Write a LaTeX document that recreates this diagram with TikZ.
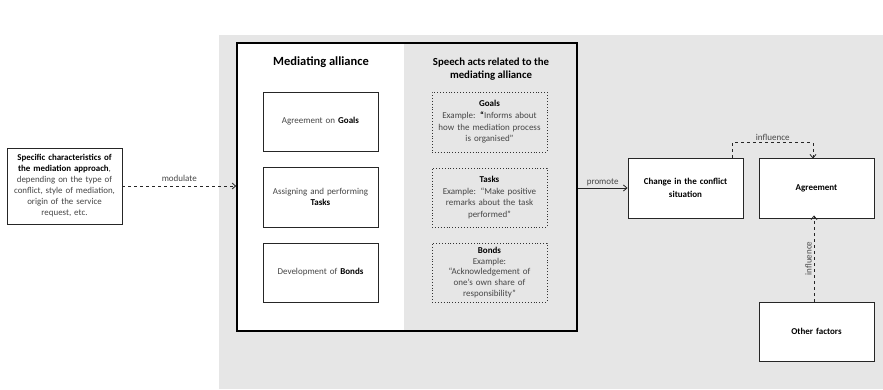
\documentclass[tikz,border=0pt]{standalone}
\usepackage{fontspec}
\setmainfont{Carlito}
\usetikzlibrary{arrows.meta}
\definecolor{panelgray}{RGB}{230,230,230}
\definecolor{txtgray}{RGB}{70,70,70}

\begin{document}
\begin{tikzpicture}[x=1pt,y=-1pt,
    box/.style={draw=black!85,line width=0.9pt,fill=white,minimum width=115pt,
      text width=112pt,align=center,inner sep=0pt,text=txtgray,
      font=\fontsize{9}{11.6}\selectfont},
    dotbox/.style={box,draw=black!80,dotted,line width=0.9pt,fill=none},
    boldbox/.style={box,minimum height=60pt,text=black,font=\fontsize{9}{12.5}\selectfont\bfseries},
    flow/.style={-{Straight Barb[length=3.5pt,width=6pt]},line width=0.8pt,black!85},
    lbl/.style={text=txtgray,font=\fontsize{9}{10}\selectfont,inner sep=2pt}]
  \useasboundingbox (0,0) rectangle (883,389);
  % grey panel
  \fill[panelgray] (219,35) rectangle (883,389);
  \fill[white] (237,43) rectangle (404,331);
  \node[draw=black,line width=1.6pt,minimum width=340pt,minimum height=288pt,inner sep=0pt] (alliance) at (407,187) {};

  % column titles
  \node[font=\fontsize{12.5}{14}\selectfont\bfseries] (alltitle) at (321,62) {Mediating alliance};
  \node[font=\fontsize{10.8}{13}\selectfont\bfseries,align=center] (speechtitle) at (491,69.5) {Speech acts related to the\\mediating alliance};

  % mediating alliance boxes
  \node[box,minimum height=59pt] (goals) at (320.5,121.5) {Agreement on \textbf{\color{black}Goals}};
  \node[box,minimum height=60pt] (tasks) at (320.5,197) {Assigning and performing\\\textbf{\color{black}Tasks}};
  \node[box,minimum height=59pt] (bonds) at (320.5,272.5) {Development of \textbf{\color{black}Bonds}};

  % speech acts
  \node[dotbox,minimum height=60pt] (goalact) at (489.5,122) {\textbf{\color{black}Goals}\\Example: \textbf{\color{black}“}Informs about\\how the mediation process\\is organised”};
  \node[dotbox,minimum height=59pt] (taskact) at (489.5,197.5) {\textbf{\color{black}Tasks}\\Example: “Make positive\\remarks about the task\\performed”};
  \node[dotbox,minimum height=59pt,font=\fontsize{9}{10.9}\selectfont] (bondact) at (489.5,272.5) {\textbf{\color{black}Bonds}\\Example:\\“Acknowledgement of\\one’s own share of\\responsibility”};

  % approach
  \node[box,minimum height=76pt,font=\fontsize{8.9}{11}\selectfont] (approach) at (64.5,186) {\textbf{\color{black}Specific characteristics of\\the mediation approach}, depending on the type of\\conflict, style of mediation,\\origin of the service\\request, etc.};

  % outcomes
  \node[boldbox] (change) at (685.5,188) {Change in the conflict\\situation};
  \node[boldbox] (agree) at (816.5,188) {Agreement};
  \node[boldbox,minimum height=59pt] (other) at (816.5,331.5) {Other factors};

  % connectors
  \draw[flow,dashed] (approach.east) -- node[lbl,above=2pt] {modulate} (approach.east -| alliance.west);
  \draw[flow] (alliance.east |- change.west) -- node[lbl,above] {promote} (change.west);
  \draw[flow,dashed] ([xshift=-11pt]change.north east) -- ++(0,-15)
    -| node[lbl,above,pos=0.25] {influence} ([xshift=-3.5pt,yshift=-1pt]agree.north);
  \draw[flow,dashed] ([xshift=-2.5pt]other.north) -- node[lbl,above,sloped] {influence} ([xshift=-2.5pt,yshift=3pt]agree.south);
\end{tikzpicture}
\end{document}
